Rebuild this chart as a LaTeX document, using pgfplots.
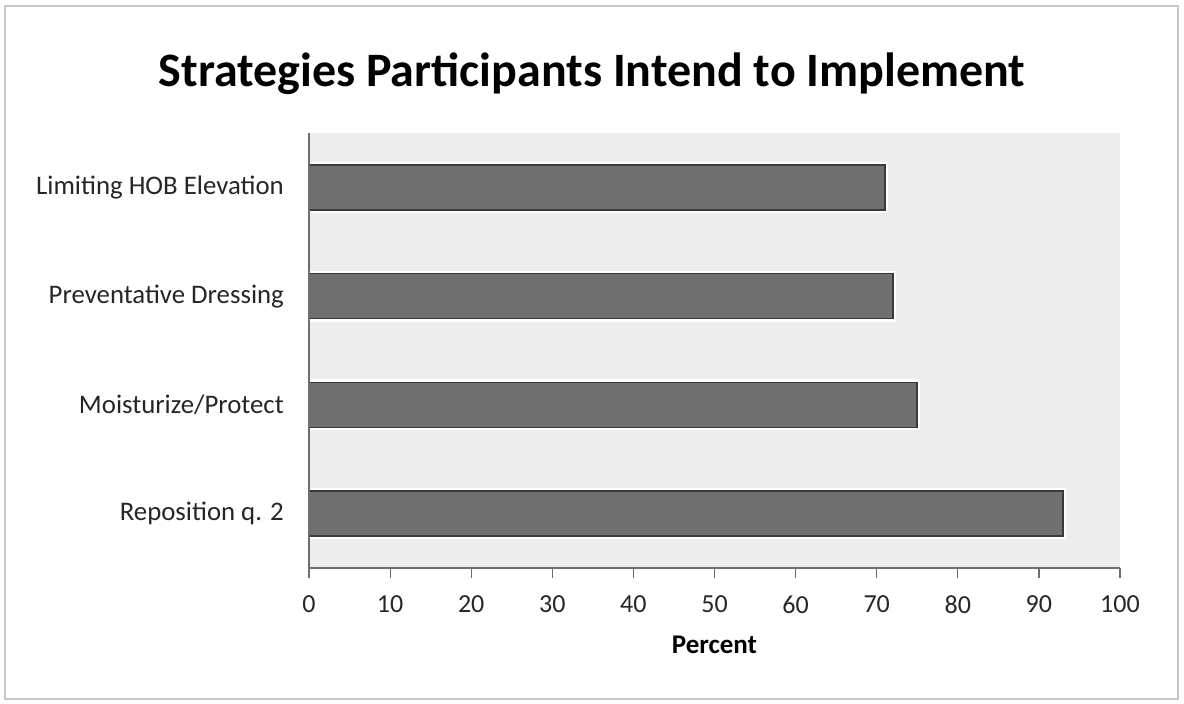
\documentclass[border=0pt]{standalone}
\usepackage{fontspec}
\setmainfont{Carlito}
\usepackage{pgfplots}
\pgfplotsset{compat=1.18}
\definecolor{bgpanel}{HTML}{EDEDED}
\definecolor{barfill}{HTML}{707070}
\definecolor{baredge}{HTML}{3A3A3A}
\definecolor{axisgray}{HTML}{6E6E6E}
\definecolor{labelgray}{HTML}{262626}
\definecolor{framegray}{HTML}{C8C8C8}

\begin{document}
\begin{tikzpicture}[x=1pt,y=-1pt]
\path[use as bounding box] (0,0) rectangle (1184,704);
\fill[white] (0,0) rectangle (1184,704);
\draw[framegray, line width=2pt] (5,6) rectangle (1178,699);

\node[anchor=base, font=\fontsize{48}{54}\selectfont\bfseries] at (592,86)
  {Strategies Participants Intend to Implement};

\begin{axis}[
    at={(309pt,-568pt)}, anchor=south west,
    scale only axis,
    width=811pt, height=435pt,
    xmin=0, xmax=100,
    ymin=-0.5, ymax=3.5,
    xbar, bar width=45pt,
    axis on top,
    axis background/.style={fill=bgpanel},
    axis x line=bottom, axis y line=left,
    axis line style={-, axisgray, line width=1.2pt},
    xtick={0,10,...,100},
    ytick={0,1,2,3},
    yticklabels={Reposition q. 2, Moisturize/Protect, Preventative Dressing, Limiting HOB Elevation},
    tick align=outside,
    major tick length=10pt,
    x tick style={axisgray, line width=1.2pt},
    y tick style={draw=none},
    /pgf/number format/assume math mode=true,
    ticklabel style={font=\fontsize{26}{30}\selectfont, text=labelgray},
    xticklabel style={yshift=-14pt},
    yticklabel style={inner sep=0pt, xshift=-15pt, font=\fontsize{26.8}{31}\selectfont},
    xlabel={Percent},
    xlabel style={at={(axis description cs:0.5,0)}, anchor=base, yshift=-85pt,
      font=\fontsize{27}{31}\selectfont\bfseries, text=black},
    clip=false,
]
\addplot[fill=barfill, draw=baredge, line width=1.6pt,
  preaction={draw=white, line width=6pt}]
  coordinates {(93,0) (75,1) (72,2) (71,3)};
\end{axis}
\end{tikzpicture}
\end{document}
